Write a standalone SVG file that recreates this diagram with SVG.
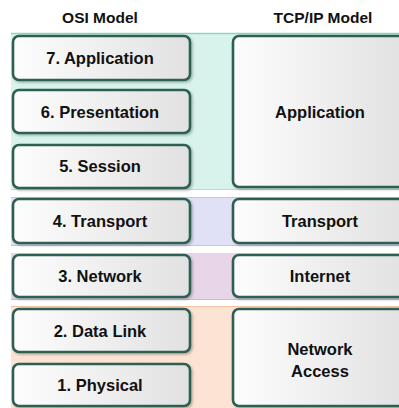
<svg xmlns="http://www.w3.org/2000/svg" width="399" height="408" viewBox="0 0 399 408">
<defs>
<linearGradient id="g" x1="0" y1="0" x2="1" y2="0">
<stop offset="0" stop-color="#fdfdfd"/>
<stop offset="1" stop-color="#e1e1e1"/>
</linearGradient>
<filter id="sh" x="-5%" y="-10%" width="115%" height="130%">
<feDropShadow dx="1.5" dy="1.5" stdDeviation="1" flood-color="#000" flood-opacity="0.25"/>
</filter>
<style>
.box{fill:url(#g);stroke:#2e5f53;stroke-width:2.6;filter:url(#sh)}
.t{font-family:"Liberation Sans",Arial,sans-serif;font-weight:bold;font-size:16.5px;fill:#111;text-anchor:middle}
.h{font-family:"Liberation Sans",Arial,sans-serif;font-weight:bold;font-size:15.5px;fill:#111;text-anchor:middle}
</style>
</defs>
<rect width="399" height="408" fill="#fff"/>
<g id="bands">
<rect x="11" y="33" width="388" height="157" fill="#d7f3eb"/>
<line x1="11" y1="33.5" x2="399" y2="33.5" stroke="#8fd5bc" stroke-width="1.5"/>
<line x1="11" y1="189.5" x2="399" y2="189.5" stroke="#aee3d0" stroke-width="1"/>
<rect x="11" y="197" width="388" height="49" fill="#e0e0f6"/>
<line x1="11" y1="197.5" x2="399" y2="197.5" stroke="#c6c2ea" stroke-width="1"/>
<line x1="11" y1="245.5" x2="399" y2="245.5" stroke="#c6c2ea" stroke-width="1"/>
<rect x="11" y="253" width="388" height="47" fill="#e8d6e8"/>
<line x1="11" y1="299.5" x2="399" y2="299.5" stroke="#d3b6d2" stroke-width="1"/>
<rect x="11" y="306" width="388" height="102" fill="#fde3d3"/>
<line x1="11" y1="306.5" x2="399" y2="306.5" stroke="#f4c3a6" stroke-width="1"/>
</g>
<text class="h" x="100" y="23">OSI Model</text>
<text class="h" x="323" y="23">TCP/IP Model</text>
<g id="osi7"><rect class="box" x="13" y="36" width="177" height="44" rx="6"/><text class="t" x="100" y="64">7. Application</text></g>
<g id="osi6"><rect class="box" x="13" y="90" width="177" height="43" rx="6"/><text class="t" x="100" y="118">6. Presentation</text></g>
<g id="osi5"><rect class="box" x="13" y="145" width="177" height="43" rx="6"/><text class="t" x="100" y="172">5. Session</text></g>
<g id="osi4"><rect class="box" x="13" y="199" width="177" height="44" rx="6"/><text class="t" x="100" y="227">4. Transport</text></g>
<g id="osi3"><rect class="box" x="13" y="255" width="177" height="42" rx="6"/><text class="t" x="100" y="282">3. Network</text></g>
<g id="osi2"><rect class="box" x="13" y="309" width="177" height="43" rx="6"/><text class="t" x="100" y="337">2. Data Link</text></g>
<g id="osi1"><rect class="box" x="13" y="364" width="177" height="42" rx="6"/><text class="t" x="100" y="391">1. Physical</text></g>
<g id="tcp-app"><rect class="box" x="233" y="36" width="175" height="151" rx="6"/><text class="t" x="320" y="118">Application</text></g>
<g id="tcp-transport"><rect class="box" x="233" y="199" width="175" height="44" rx="6"/><text class="t" x="320" y="227">Transport</text></g>
<g id="tcp-internet"><rect class="box" x="233" y="255" width="175" height="42" rx="6"/><text class="t" x="320" y="282">Internet</text></g>
<g id="tcp-netaccess"><rect class="box" x="233" y="309" width="175" height="97" rx="6"/><text class="t" x="320" y="355">Network</text><text class="t" x="320" y="377">Access</text></g>
<g id="connectors"/>
</svg>
